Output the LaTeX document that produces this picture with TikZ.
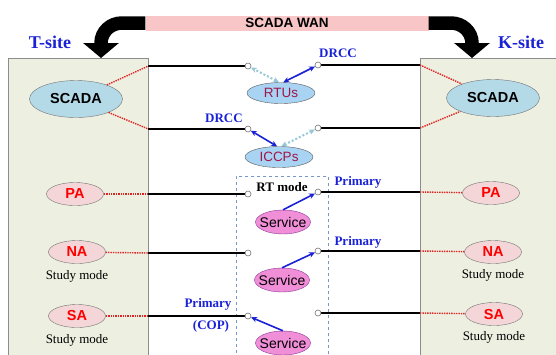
\documentclass[tikz,border=0pt]{standalone}
\usepackage{fontspec}
\setmainfont{Liberation Serif}
\setsansfont{Liberation Sans}
\usetikzlibrary{positioning,arrows.meta,shapes.geometric}
\definecolor{sitebg}{HTML}{EDF0E1}
\definecolor{wanpink}{HTML}{F8C6C6}
\definecolor{siteblue}{HTML}{1A22D6}
\definecolor{scadafill}{HTML}{B4DAE8}
\definecolor{hubfill}{HTML}{A9D3F2}
\definecolor{hubtext}{HTML}{A0164A}
\definecolor{appfill}{HTML}{F4D6D8}
\definecolor{svcfill}{HTML}{F08ED8}
\definecolor{svcedge}{HTML}{8A3A9A}
\definecolor{redlink}{HTML}{E02424}
\definecolor{dimlink}{HTML}{96C8D8}
\definecolor{boxdash}{HTML}{7A96C4}
\newcommand{\pts}[1]{\fontsize{#1}{#1}\selectfont}

\begin{document}
\begin{tikzpicture}[x=1pt,y=-1pt,
  site/.style={draw=black!45,fill=sitebg,anchor=north west,minimum width=140pt,minimum height=310pt,inner sep=0pt},
  wan/.style={fill=wanpink,minimum width=283pt,minimum height=15pt,inner sep=0pt,font=\pts{13.5}\sffamily\bfseries},
  bigarrow/.style={line width=13.5pt,-{Triangle[length=15pt,width=35pt]}},
  sitelbl/.style={text=siteblue,font=\pts{18}\bfseries},
  scada/.style={ellipse,draw=black!55,fill=scadafill,minimum width=93pt,minimum height=37pt,inner sep=0pt,font=\pts{14.5}\sffamily\bfseries},
  hub/.style={ellipse,draw=black!65,fill=hubfill,minimum width=68pt,minimum height=21pt,inner sep=0pt,text=hubtext,font=\pts{13.5}\sffamily},
  app/.style={ellipse,draw=black!55,fill=appfill,minimum width=57pt,minimum height=23pt,inner sep=0pt,text=red,font=\pts{14.5}\sffamily\bfseries},
  svc/.style={ellipse,draw=svcedge,fill=svcfill,minimum width=55pt,minimum height=24pt,inner xsep=-9pt,inner ysep=-2pt,font=\pts{14}\sffamily},
  port/.style={circle,draw=black!55,fill=white,minimum size=6pt,inner sep=0pt,line width=0.6pt},
  trunk/.style={line width=1.8pt},
  tap/.style={redlink,line width=1.4pt,densely dotted},
  dual/.style={{Stealth[length=6pt,width=5.5pt]}-{Stealth[length=6pt,width=5.5pt]},color=siteblue,line width=1.6pt},
  faint/.style={dual,color=dimlink,line width=2pt,dotted},
  point/.style={-{Stealth[length=6pt,width=5.5pt]},color=siteblue,line width=1.6pt},
  tag/.style={text=siteblue,font=\pts{13}\bfseries},
  note/.style={font=\pts{13}}]
  \useasboundingbox (0,0) rectangle (556,354);
  \clip (0,0) rectangle (556,354);

  % sites, WAN banner
  \node[site] (tsite) at (8,58) {};
  \node[site] (ksite) at (420,58) {};
  \node[draw=boxdash,dashed,line width=0.9pt,anchor=north west,minimum width=92pt,minimum height=200pt] (modes) at (236,176) {};
  \node[wan] (wan) at (287,23) {SCADA WAN};
  \draw[bigarrow] (wan.west) -- (122,23) to[out=180,in=90] (101,43) -- (101,58);
  \draw[bigarrow] (wan.east) -- (451,23) to[out=0,in=90] (472,43) -- (472,58);
  \node[sitelbl] (tname) at (50,42) {T-site};
  \node[sitelbl] (kname) at (521,42) {K-site};

  % ports and trunk lines
  \foreach \i/\yl/\yr in {1/66/65,2/129/128,3/194/192,4/253/251,5/316/313} {
    \draw[trunk] (tsite.east |- 0,\yl) -- (248,\yl);
    \draw[trunk] (318,\yr) -- (ksite.west |- 0,\yr);
    \node[port] (l\i) at (248,\yl) {};
    \node[port] (r\i) at (318,\yr) {};
  }

  % T-site
  \node[scada] (tscada) at (76,99) {SCADA};
  \node[app] (tpa) at (75,194) {PA};
  \node[app] (tna) at (77,252) {NA};
  \node[app] (tsa) at (77,316) {SA};
  \node[note,below=3pt of tna] (tnamode) {Study mode};
  \node[note,below=3pt of tsa] (tsamode) {Study mode};
  % K-site
  \node[scada] (kscada) at (493,98) {SCADA};
  \node[app] (kpa) at (491,193) {PA};
  \node[app] (kna) at (493,252) {NA};
  \node[app] (ksa) at (494,314) {SA};
  \node[note,below=2pt of kna] (knamode) {Study mode};
  \node[note,below=2pt of ksa] (ksamode) {Study mode};

  \foreach \a/\p in {tscada/l1,tscada/l2,tpa/l3,tna/l4,tsa/l5} \draw[tap] (\a) -- (tsite.east |- \p);
  \foreach \a/\p in {kscada/r1,kscada/r2,kpa/r3,kna/r4,ksa/r5} \draw[tap] (ksite.west |- \p) -- (\a);

  % front ends and services
  \node[hub] (rtus) at (281,93) {RTUs};
  \node[hub] (iccps) at (279,157) {ICCPs};
  \node[svc] (svc1) at (283,222) {Service};
  \node[svc] (svc2) at (282,280) {Service};
  \node[svc] (svc3) at (283,343) {Service};
  \draw[dual] (rtus.78) -- (r1);
  \draw[faint] (rtus.100) -- (l1);
  \draw[dual] (iccps.100) -- (l2);
  \draw[faint] (iccps.78) -- (r2);
  \draw[point] (svc1.north) -- (r3);
  \draw[point] (svc2.north) -- (r4);
  \draw[point] (svc3.north) -- (l5);

  \node[tag] (drcc1) at (338,53) {DRCC};
  \node[tag] (drcc2) at (224,118) {DRCC};
  \node[note,font=\pts{13}\bfseries] (rtmode) at (282,187) {RT mode};
  \node[tag] (prim3) at (358,182) {Primary};
  \node[tag] (prim4) at (358,242) {Primary};
  \node[tag] (prim5) at (208,304) {Primary};
  \node[tag] (cop) at (211,326) {(COP)};
\end{tikzpicture}
\end{document}
